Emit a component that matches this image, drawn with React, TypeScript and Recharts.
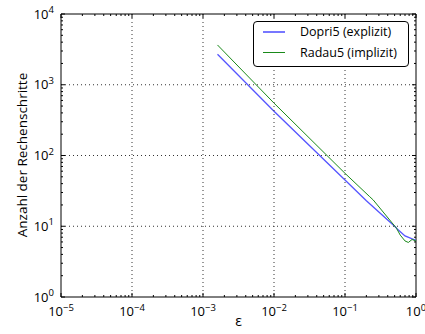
import { LineChart, Line, XAxis, YAxis, ReferenceLine } from 'recharts';

// epsilon (x) and number of steps (y)
const dopriEps = [0.0016, 0.01, 0.1, 0.2, 0.5, 0.56, 0.7, 1.0];
const dopriSteps = [2700, 423, 45, 23, 10, 8.9, 7.3, 6.3];

const radauEps = [0.0016, 0.01, 0.1, 0.22, 0.25, 0.53, 0.6, 0.7, 0.78, 0.88, 1.0];
const radauSteps = [3650, 550, 56, 26.5, 23.5, 9.4, 7.5, 6.2, 5.9, 6.5, 6.2];

const seriesNames = ['Dopri5 (explizit)', 'Radau5 (implizit)'];
const seriesColors = ['#5555ff', '#1a8a1a'];

const xMajor = [1e-5, 1e-4, 1e-3, 1e-2, 1e-1, 1];
const yMajor = [1, 10, 100, 1000, 10000];

const minorsOf = (majors: number[]) => {
  const out: number[] = [];
  majors.slice(0, -1).forEach(m => {
    for (let k = 2; k <= 9; k++) out.push(m * k);
  });
  return out;
};
const xTicks = [...xMajor, ...minorsOf(xMajor)].sort((a, b) => a - b);
const yTicks = [...yMajor, ...minorsOf(yMajor)].sort((a, b) => a - b);

const W = 425;
const H = 334;
const LEFT = 61;
const RIGHT = 416;
const TOP = 14;
const BOTTOM = 297;
const FONT = '"Open Sans", sans-serif';

const dopriData = dopriEps.map((e, i) => ({ eps: e, steps: dopriSteps[i] }));
const radauData = radauEps.map((e, i) => ({ eps: e, steps: radauSteps[i] }));

const isDecade = (v: number) => Math.abs(Math.log10(v) - Math.round(Math.log10(v))) < 1e-9;
const expText = (v: number) => {
  const e = Math.round(Math.log10(v));
  return e < 0 ? `\u2212${-e}` : `${e}`;
};

function XTick(props: any) {
  const { x, payload } = props;
  const v = payload.value;
  const major = isDecade(v);
  const len = major ? 4 : 2;
  const inner = x > LEFT + 1 && x < RIGHT - 1;
  return (
    <g>
      {major && inner && (
        <line x1={x} y1={TOP} x2={x} y2={BOTTOM} stroke="#333" strokeWidth={1} strokeDasharray="1 3" />
      )}
      <line x1={x} y1={BOTTOM} x2={x} y2={BOTTOM - len} stroke="#000" />
      <line x1={x} y1={TOP} x2={x} y2={TOP + len} stroke="#000" />
      {major && (
        <text x={x} y={BOTTOM + 19} textAnchor="middle" fontSize={13} fontFamily={FONT} fill="#000">
          <tspan>10</tspan>
          <tspan dy={-5.5} fontSize={9.5}>{expText(v)}</tspan>
        </text>
      )}
    </g>
  );
}

function YTick(props: any) {
  const { y, payload } = props;
  const v = payload.value;
  const major = isDecade(v);
  const len = major ? 4 : 2;
  const inner = y > TOP + 1 && y < BOTTOM - 1;
  return (
    <g>
      {major && inner && (
        <line x1={LEFT} y1={y} x2={RIGHT} y2={y} stroke="#333" strokeWidth={1} strokeDasharray="1 3" />
      )}
      <line x1={LEFT} y1={y} x2={LEFT + len} y2={y} stroke="#000" />
      <line x1={RIGHT} y1={y} x2={RIGHT - len} y2={y} stroke="#000" />
      {major && (
        <text x={LEFT - 7} y={y + 4.5} textAnchor="end" fontSize={13} fontFamily={FONT} fill="#000">
          <tspan>10</tspan>
          <tspan dy={-5.5} fontSize={9.5}>{expText(v)}</tspan>
        </text>
      )}
    </g>
  );
}

export default function App() {
  return (
    <div style={{ position: 'absolute', left: 0, top: 0, width: W, height: H, background: '#fff' }}>
      <LineChart width={W} height={H} margin={{ top: TOP, right: W - RIGHT, bottom: 0, left: 0 }}>
        <XAxis
          dataKey="eps"
          type="number"
          scale="log"
          domain={[1e-5, 1]}
          allowDataOverflow
          ticks={xTicks}
          interval={0}
          tick={<XTick />}
          tickLine={false}
          tickSize={0}
          tickMargin={0}
          height={H - BOTTOM}
          axisLine={{ stroke: '#000' }}
          label={{
            content: () => (
              <text x={(LEFT + RIGHT) / 2} y={BOTTOM + 29} textAnchor="middle" fontSize={14} fontFamily={FONT} fill="#000">
                ε
              </text>
            ),
          }}
        />
        <YAxis
          dataKey="steps"
          type="number"
          scale="log"
          domain={[1, 10000]}
          allowDataOverflow
          ticks={yTicks}
          interval={0}
          tick={<YTick />}
          tickLine={false}
          tickSize={0}
          tickMargin={0}
          width={LEFT}
          axisLine={{ stroke: '#000' }}
          label={{
            content: () => (
              <text
                x={22}
                y={155}
                transform="rotate(-90 22 155)"
                textAnchor="middle"
                dominantBaseline="central"
                fontSize={13.5}
                fontFamily={FONT}
                fill="#000"
              >
                Anzahl der Rechenschritte
              </text>
            ),
          }}
        />
        <ReferenceLine y={10000} stroke="#000" />
        <ReferenceLine x={1} stroke="#000" />
        <Line
          data={dopriData}
          dataKey="steps"
          name={seriesNames[0]}
          type="linear"
          stroke={seriesColors[0]}
          strokeWidth={1.3}
          dot={false}
          isAnimationActive={false}
        />
        <Line
          data={radauData}
          dataKey="steps"
          name={seriesNames[1]}
          type="linear"
          stroke={seriesColors[1]}
          strokeWidth={1}
          dot={false}
          isAnimationActive={false}
        />
      </LineChart>
      <div
        style={{
          position: 'absolute',
          left: 253,
          top: 21,
          width: 156,
          height: 46,
          border: '1px solid #000',
          borderRadius: 4,
          background: '#fff',
          boxSizing: 'border-box',
          fontFamily: FONT,
          fontSize: 12.5,
        }}
      >
        {seriesNames.map((n, i) => (
          <div key={n} style={{ position: 'absolute', left: 0, top: 1 + i * 20.5, height: 18, width: '100%' }}>
            <div
              style={{
                position: 'absolute',
                left: 9,
                top: 8,
                width: 22,
                height: i === 0 ? 2 : 1.5,
                background: seriesColors[i],
                opacity: i === 0 ? 0.8 : 1,
              }}
            />
            <span style={{ position: 'absolute', left: 46, top: 0, lineHeight: '18px', whiteSpace: 'nowrap' }}>{n}</span>
          </div>
        ))}
      </div>
    </div>
  );
}
